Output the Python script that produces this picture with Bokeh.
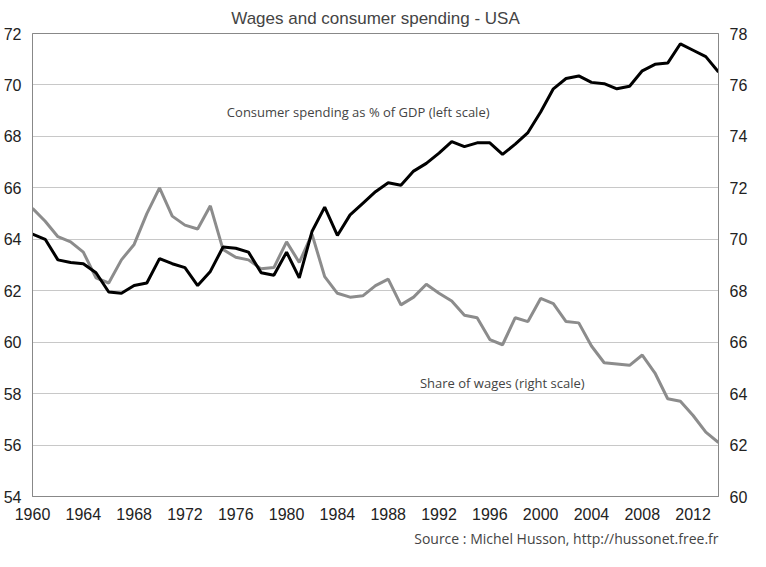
from bokeh.plotting import figure
from bokeh.models import Range1d, LinearAxis, Label, Title, FixedTicker
from bokeh.embed import file_html
from bokeh.resources import INLINE

years = list(range(1960, 2015))

# consumer spending as % of GDP (left scale)
consumption = [64.2, 64.0, 63.2, 63.1, 63.05, 62.7, 61.95, 61.9, 62.2, 62.3,
               63.25, 63.05, 62.9, 62.2, 62.75, 63.7, 63.65, 63.5, 62.7, 62.6,
               63.5, 62.5, 64.3, 65.25, 64.15, 64.95, 65.4, 65.85, 66.2, 66.1,
               66.65, 66.95, 67.35, 67.8, 67.6, 67.75, 67.75, 67.3, 67.7, 68.15,
               68.95, 69.85, 70.25, 70.35, 70.1, 70.05, 69.85, 69.95, 70.55, 70.8,
               70.85, 71.6, 71.35, 71.1, 70.5]

# share of wages (right scale)
wages = [71.2, 70.7, 70.1, 69.9, 69.5, 68.5, 68.3, 69.2, 69.8, 71.0,
         72.0, 70.9, 70.55, 70.4, 71.3, 69.6, 69.3, 69.2, 68.85, 68.9,
         69.9, 69.1, 70.2, 68.55, 67.9, 67.75, 67.8, 68.2, 68.45, 67.45,
         67.75, 68.25, 67.9, 67.6, 67.05, 66.95, 66.1, 65.9, 66.95, 66.8,
         67.7, 67.5, 66.8, 66.75, 65.85, 65.2, 65.15, 65.1, 65.5, 64.8,
         63.8, 63.7, 63.15, 62.5, 62.1]

p = figure(width=750, height=551, output_backend="svg", toolbar_location=None,
           x_range=Range1d(1960, 2014), y_range=Range1d(54, 72),
           min_border_left=6, min_border_right=6, min_border_top=10,
           min_border_bottom=20)
p.title.text = "Wages and consumer spending - USA"
p.title.align = "center"
p.title.text_font = "Liberation Sans"
p.title.text_font_size = "17px"
p.title.text_font_style = "normal"
p.title.standoff = 12

p.extra_y_ranges = {"right": Range1d(60, 78)}
p.add_layout(LinearAxis(y_range_name="right"), "right")

for ax in p.yaxis:
    ax.ticker = FixedTicker(ticks=list(range(54, 80, 2)))
p.xaxis.ticker = FixedTicker(ticks=list(range(1960, 2015, 4)))
for ax in p.axis:
    ax.major_label_text_font = "Liberation Sans"
    ax.major_label_text_font_size = "16px"
    ax.major_label_text_color = "#222222"
    ax.minor_tick_line_color = None
    ax.major_tick_line_color = None
    ax.axis_line_color = "#888888"

p.xgrid.grid_line_color = None
p.ygrid.grid_line_color = "#c8c8c8"
p.outline_line_color = "#888888"

p.line(years, wages, color="#8c8c8c", line_width=3, y_range_name="right")
p.line(years, consumption, color="black", line_width=3)

p.add_layout(Label(x=1975.3, y=68.6, text="Consumer spending as % of GDP (left scale)",
                   text_font="Open Sans", text_font_size="13px"))
p.add_layout(Label(x=1990.5, y=58.05, text="Share of wages (right scale)",
                   text_font="Open Sans", text_font_size="13px"))

p.add_layout(Title(text="Source : Michel Husson, http://hussonet.free.fr", align="right",
                   text_font="Open Sans", text_font_size="14px", text_font_style="normal",
                   offset=0, standoff=8),
             "below")

open("out.html", "w").write(file_html(p, INLINE))
